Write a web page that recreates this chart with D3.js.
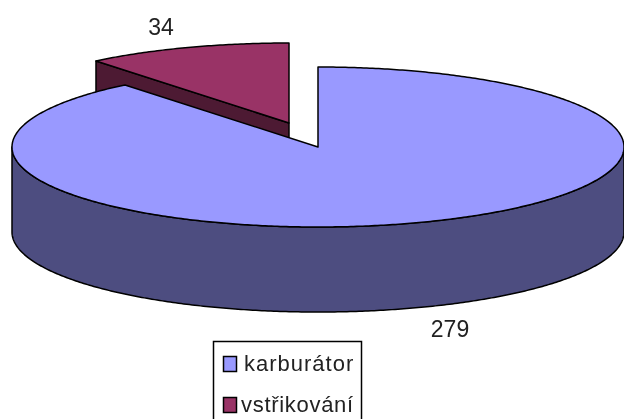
<!DOCTYPE html>
<html><head><meta charset="utf-8">
<script src="https://cdn.jsdelivr.net/npm/d3@7"></script>
<style>html,body{margin:0;padding:0;background:#fff;overflow:hidden}svg{display:block;filter:blur(.35px)}</style>
</head><body><svg id="c" width="624" height="419"></svg>
<script>
const categories = ["karburátor", "vstřikování"];
const values = [279, 34];
const topColors = ["#9999FF", "#993366"];
const sideColors = ["#4D4D80", "#4D1A33"];

const svg = d3.select("#c");
const font = "'Liberation Sans', Arial, sans-serif";
const cx = 318, cy = 147, rx = 306, ry = 80, depth = 85;
const explode = [[0, 0], [-29, -24]];
const pie = d3.pie().sort(null).startAngle(0).endAngle(2 * Math.PI)(values);

const pt = (a, ox, oy, dy = 0) => [cx + ox + rx * Math.sin(a), cy + oy - ry * Math.cos(a) + dy];
const line = d3.line();
const arcPts = (a0, a1, ox, oy, dy = 0) => {
  const n = Math.ceil(Math.abs(a1 - a0) / 0.01);
  return d3.range(n + 1).map(i => pt(a0 + (a1 - a0) * i / n, ox, oy, dy));
};
const stroke = { stroke: "#000", "stroke-width": 1.5, "stroke-linejoin": "round" };
const draw = (pts, fill) => {
  const p = svg.append("path").attr("d", line(pts) + "Z").attr("fill", fill);
  Object.entries(stroke).forEach(([k, v]) => p.attr(k, v));
};

// exploded slice first: the big pie covers the lower part of its cut face
{
  const d = pie[1], [ox, oy] = explode[1];
  const c = [cx + ox, cy + oy];
  const e = pt(d.startAngle, ox, oy);
  draw([e, c, [c[0], c[1] + depth], [e[0], e[1] + depth]], sideColors[1]);
  draw([c, ...arcPts(d.startAngle, d.endAngle, ox, oy)], topColors[1]);
}
// big slice: rim over the front half, then the top
{
  const d = pie[0];
  const front = arcPts(Math.PI / 2, Math.PI * 1.5, 0, 0);
  const frontLow = arcPts(Math.PI * 1.5, Math.PI / 2, 0, 0, depth);
  draw([...front, ...frontLow], sideColors[0]);
  draw([[cx, cy], ...arcPts(d.startAngle, d.endAngle, 0, 0)], topColors[0]);
}
// value labels
const labelPos = [[450, 337], [161, 35]];
values.forEach((v, i) => svg.append("text").attr("x", labelPos[i][0]).attr("y", labelPos[i][1])
  .attr("text-anchor", "middle").attr("font-family", font).attr("font-size", 23).attr("fill", "#222").text(v));
// legend
svg.append("rect").attr("x", 213.5).attr("y", 341.5).attr("width", 148).attr("height", 90)
  .attr("fill", "#fff").attr("stroke", "#000").attr("stroke-width", 1.5);
const rowY = d3.scalePoint().domain(categories).range([364, 405]);
categories.forEach((c, i) => {
  svg.append("rect").attr("x", 223.5).attr("y", rowY(c) - 7.5).attr("width", 13).attr("height", 15)
    .attr("fill", topColors[i]).attr("stroke", "#000").attr("stroke-width", 1.5);
  svg.append("text").attr("x", i ? 241 : 244).attr("y", rowY(c) + 7).attr("font-family", font)
    .attr("font-size", 22).attr("letter-spacing", i ? 0.7 : 1.0).attr("fill", "#222").text(c);
});
</script></body></html>
